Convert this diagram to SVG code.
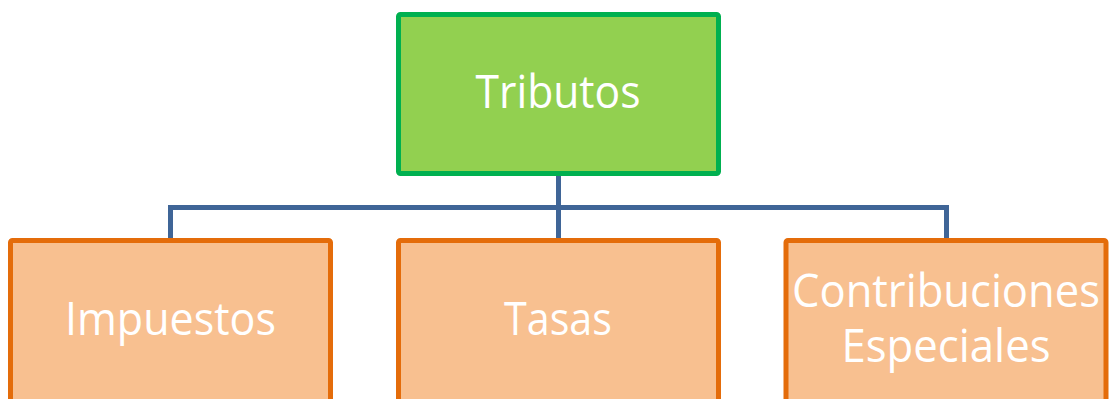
<svg xmlns="http://www.w3.org/2000/svg" width="1109" height="399" viewBox="0 0 1109 399">
<style>
.top{fill:#92D050;stroke:#00B050;stroke-width:5}
.child{fill:#F8C090;stroke:#E46C0A;stroke-width:5}
.lbl{font-family:"Open Sans","Noto Sans",sans-serif;font-size:45px;fill:#FFFFFF;text-anchor:middle}
.conn{fill:none;stroke:#3F6597;stroke-width:5}
</style>
<rect width="1109" height="399" fill="#FFFFFF"/>
<g id="connectors">
<path class="conn" d="M558.5 176 V239"/>
<path class="conn" d="M170.5 239 V207.5 H946.5 V239"/>
</g>
<g id="tributos">
<rect class="top" x="398.5" y="14.5" width="320" height="159" rx="2"/>
<text class="lbl" x="558" y="108" textLength="165" lengthAdjust="spacingAndGlyphs">Tributos</text>
</g>
<g id="impuestos">
<rect class="child" x="10.5" y="240.5" width="320" height="170" rx="2"/>
<text class="lbl" x="170.5" y="335" textLength="211" lengthAdjust="spacingAndGlyphs">Impuestos</text>
</g>
<g id="tasas">
<rect class="child" x="398.5" y="240.5" width="320" height="170" rx="2"/>
<text class="lbl" x="558" y="335" textLength="108" lengthAdjust="spacingAndGlyphs">Tasas</text>
</g>
<g id="contribuciones">
<rect class="child" x="786" y="240.5" width="320" height="170" rx="2"/>
<text class="lbl" x="946" y="307" textLength="308" lengthAdjust="spacingAndGlyphs">Contribuciones</text>
<text class="lbl" x="946" y="362" textLength="209" lengthAdjust="spacingAndGlyphs">Especiales</text>
</g>
</svg>
